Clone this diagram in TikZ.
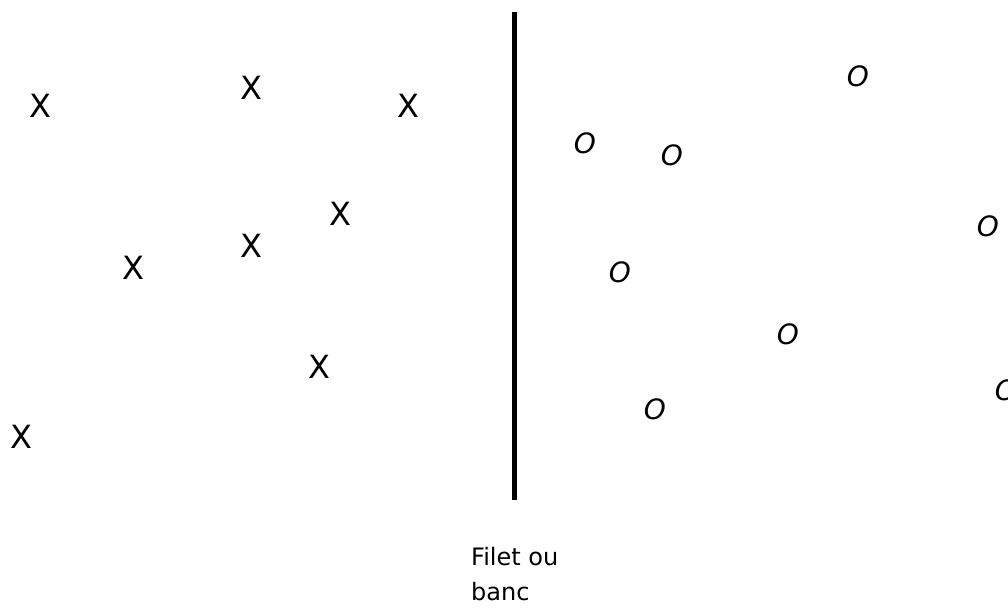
\documentclass[tikz,border=0pt]{standalone}
\usepackage{fontspec}
\setmainfont{DejaVu Sans}
\usetikzlibrary{positioning}

\begin{document}
\begin{tikzpicture}[
  x=1pt, y=-1pt,
  cross/.style={inner sep=0pt, font=\fontsize{32}{32}\selectfont},
  ring/.style={inner sep=0pt, font=\fontsize{28}{28}\selectfont\itshape},
  lab/.style={inner sep=0pt, align=left, anchor=north west,
              font=\fontsize{24}{35}\selectfont},
  net/.style={line width=5pt},
]
\useasboundingbox (0,0) rectangle (1008,607);
\clip (0,0) rectangle (1008,607);

% ---------------------------------------------------------------- left side
\foreach \i/\px/\py in {1/40/106, 2/251/88, 3/408/106, 4/340/214,
                        5/251/246, 6/133/268, 7/319/367, 8/21/437}
  \node[cross] (x\i) at (\px,\py) {X};

% --------------------------------------------------------------- right side
\foreach \i/\px/\py in {1/858/76, 2/585/143, 3/672/155, 4/988/226,
                        5/620/272, 6/788/334, 7/655/409, 8/1006/390}
  \node[ring] (o\i) at (\px,\py) {O};

% ---------------------------------------------------------------- the net
\coordinate (top) at (514,12);
\coordinate (bot) at (514,500);
\draw[net] (top) -- (bot);

\node[lab] (name) at (471,547) {Filet ou\\banc};
\end{tikzpicture}
\end{document}
